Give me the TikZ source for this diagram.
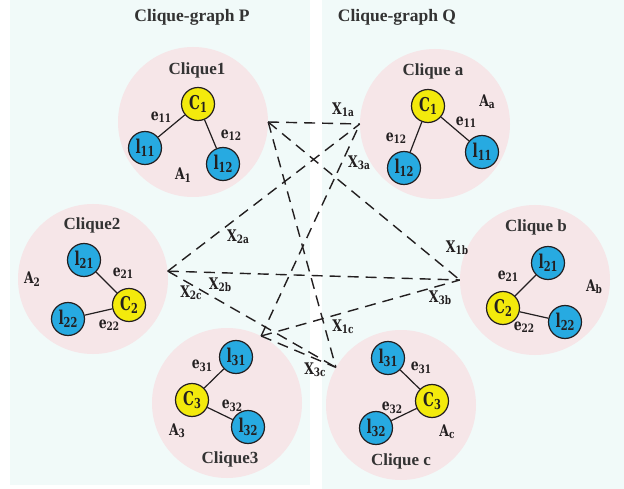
\documentclass[tikz,border=0pt]{standalone}
\usepackage{fontspec}
\setmainfont{Liberation Serif}
\newfontfamily\lblfont[FakeStretch=0.78]{DejaVu Serif}
\newfontfamily\vtxfont[FakeStretch=0.72]{DejaVu Serif}
\definecolor{panelcol}{HTML}{F1FAF9}
\definecolor{pinkcol}{HTML}{F6E6E8}
\definecolor{bluecol}{HTML}{27AAE1}
\definecolor{yellowcol}{HTML}{F3EA0C}
\definecolor{inkcol}{HTML}{231F20}
\definecolor{titlecol}{HTML}{333333}
\newcommand\lb[2]{#1\raisebox{-0.3ex}{\scalebox{0.72}{#2}}}
\begin{document}
\begin{tikzpicture}[x=1pt,y=-1pt,
  panel/.style={fill=panelcol,draw=none},
  clq/.style={circle,fill=pinkcol,draw=none,minimum size=150pt,inner sep=0pt},
  vtx/.style={circle,draw=inkcol,line width=1.2pt,minimum size=33pt,inner sep=0pt,
    text=inkcol,font=\vtxfont\bfseries\fontsize{19}{19}\selectfont},
  cnode/.style={vtx,fill=yellowcol},
  lnode/.style={vtx,fill=bluecol},
  lab/.style={inner sep=0pt,text=inkcol,font=\lblfont\bfseries\fontsize{16}{16}\selectfont},
  ttl/.style={inner sep=0pt,text=titlecol,font=\bfseries\fontsize{17.5}{17.5}\selectfont},
  ctl/.style={inner sep=0pt,text=titlecol,font=\bfseries\fontsize{17}{17}\selectfont},
  edge/.style={draw=inkcol,line width=1.2pt},
  xline/.style={draw=inkcol,line width=1.4pt,dash pattern=on 11pt off 7pt}]
\useasboundingbox (0,0) rectangle (624,489);
% panels
\fill[panel] (10,0) rectangle (310,485);
\fill[panel] (322,0) rectangle (624,489);
\node[ttl] (tp) at (192,17) {Clique-graph P};
\node[ttl] (tq) at (397,17) {Clique-graph Q};
% clique circles
\node[clq] (c1) at (193,122) {};
\node[clq] (c2) at (93,279) {};
\node[clq] (c3) at (227,403) {};
\node[clq] (ca) at (435,124) {};
\node[clq] (cb) at (535,280) {};
\node[clq] (cc) at (401,405) {};
% clique titles
\node[ctl] (t1) at (197,70) {Clique1};
\node[ctl] (t2) at (92,225) {Clique2};
\node[ctl] (t3) at (230,459) {Clique3};
\node[ctl] (ta) at (433,71) {Clique a};
\node[ctl] (tb) at (536,227) {Clique b};
\node[ctl] (tc) at (401,461) {Clique c};
% clique 1
\node[cnode] (p1c) at (198,104) {\lb{C}{1}};
\node[lnode] (p1l1) at (145,148) {\lb{l}{11}};
\node[lnode] (p1l2) at (223,164) {\lb{l}{12}};
\draw[edge] (p1c) -- (p1l1);
\draw[edge] (p1c) -- (p1l2);
\node[lab] (p1e1) at (161,117) {\lb{e}{11}};
\node[lab] (p1e2) at (231,135) {\lb{e}{12}};
\node[lab] (p1A) at (183,175) {\lb{A}{1}};
% clique 2
\node[lnode] (p2l1) at (84,260) {\lb{l}{21}};
\node[cnode] (p2c) at (129,305) {\lb{C}{2}};
\node[lnode] (p2l2) at (68,319) {\lb{l}{22}};
\draw[edge] (p2c) -- (p2l1);
\draw[edge] (p2c) -- (p2l2);
\node[lab] (p2e1) at (123,273) {\lb{e}{21}};
\node[lab] (p2e2) at (109,325) {\lb{e}{22}};
\node[lab] (p2A) at (32,279) {\lb{A}{2}};
% clique 3
\node[lnode] (p3l1) at (236,357) {\lb{l}{31}};
\node[cnode] (p3c) at (192,400) {\lb{C}{3}};
\node[lnode] (p3l2) at (248,427) {\lb{l}{32}};
\draw[edge] (p3c) -- (p3l1);
\draw[edge] (p3c) -- (p3l2);
\node[lab] (p3e1) at (202,366) {\lb{e}{31}};
\node[lab] (p3e2) at (232,406) {\lb{e}{32}};
\node[lab] (p3A) at (177,431) {\lb{A}{3}};
% clique a
\node[cnode] (qac) at (428,106) {\lb{C}{1}};
\node[lnode] (qal2) at (404,168) {\lb{l}{12}};
\node[lnode] (qal1) at (482,152) {\lb{l}{11}};
\draw[edge] (qac) -- (qal1);
\draw[edge] (qac) -- (qal2);
\node[lab] (qae2) at (396,138) {\lb{e}{12}};
\node[lab] (qae1) at (466,122) {\lb{e}{11}};
\node[lab] (qaA) at (487,102) {\lb{A}{a}};
% clique b
\node[lnode] (qbl1) at (548,263) {\lb{l}{21}};
\node[cnode] (qbc) at (503,308) {\lb{C}{2}};
\node[lnode] (qbl2) at (565,322) {\lb{l}{22}};
\draw[edge] (qbc) -- (qbl1);
\draw[edge] (qbc) -- (qbl2);
\node[lab] (qbe1) at (508,276) {\lb{e}{21}};
\node[lab] (qbe2) at (524,327) {\lb{e}{22}};
\node[lab] (qbA) at (594,287) {\lb{A}{b}};
% clique c
\node[lnode] (qcl1) at (388,358) {\lb{l}{31}};
\node[cnode] (qcc) at (432,401) {\lb{C}{3}};
\node[lnode] (qcl2) at (376,428) {\lb{l}{32}};
\draw[edge] (qcc) -- (qcl1);
\draw[edge] (qcc) -- (qcl2);
\node[lab] (qce1) at (421,368) {\lb{e}{31}};
\node[lab] (qce2) at (392,408) {\lb{e}{32}};
\node[lab] (qcA) at (447,432) {\lb{A}{c}};
% connector end points
\coordinate (e1) at (c1.east);
\coordinate (e2) at (c2.6);
\coordinate (e3) at (c3.63);
\coordinate (ea) at (ca.west);
\coordinate (eb) at (cb.west);
\coordinate (ec) at (cc.150);
% correspondences
\draw[xline] (e1) -- (ea);
\draw[xline] (e1) -- (eb);
\draw[xline] (e1) -- (ec);
\draw[xline] (e2) -- (ea);
\draw[xline] (e2) -- (eb);
\draw[xline] (e2) -- (ec);
\draw[xline] (e3) -- (ea);
\draw[xline] (e3) -- (eb);
\draw[xline] (e3) -- (ec);
\node[lab] (x1a) at (343,110) {\lb{X}{1a}};
\node[lab] (x1b) at (457,248) {\lb{X}{1b}};
\node[lab] (x1c) at (343,327) {\lb{X}{1c}};
\node[lab] (x2a) at (238,237) {\lb{X}{2a}};
\node[lab] (x2b) at (220,285) {\lb{X}{2b}};
\node[lab] (x2c) at (191,293) {\lb{X}{2c}};
\node[lab] (x3a) at (359,163) {\lb{X}{3a}};
\node[lab] (x3b) at (440,298) {\lb{X}{3b}};
\node[lab] (x3c) at (315,370) {\lb{X}{3c}};
\end{tikzpicture}
\end{document}
